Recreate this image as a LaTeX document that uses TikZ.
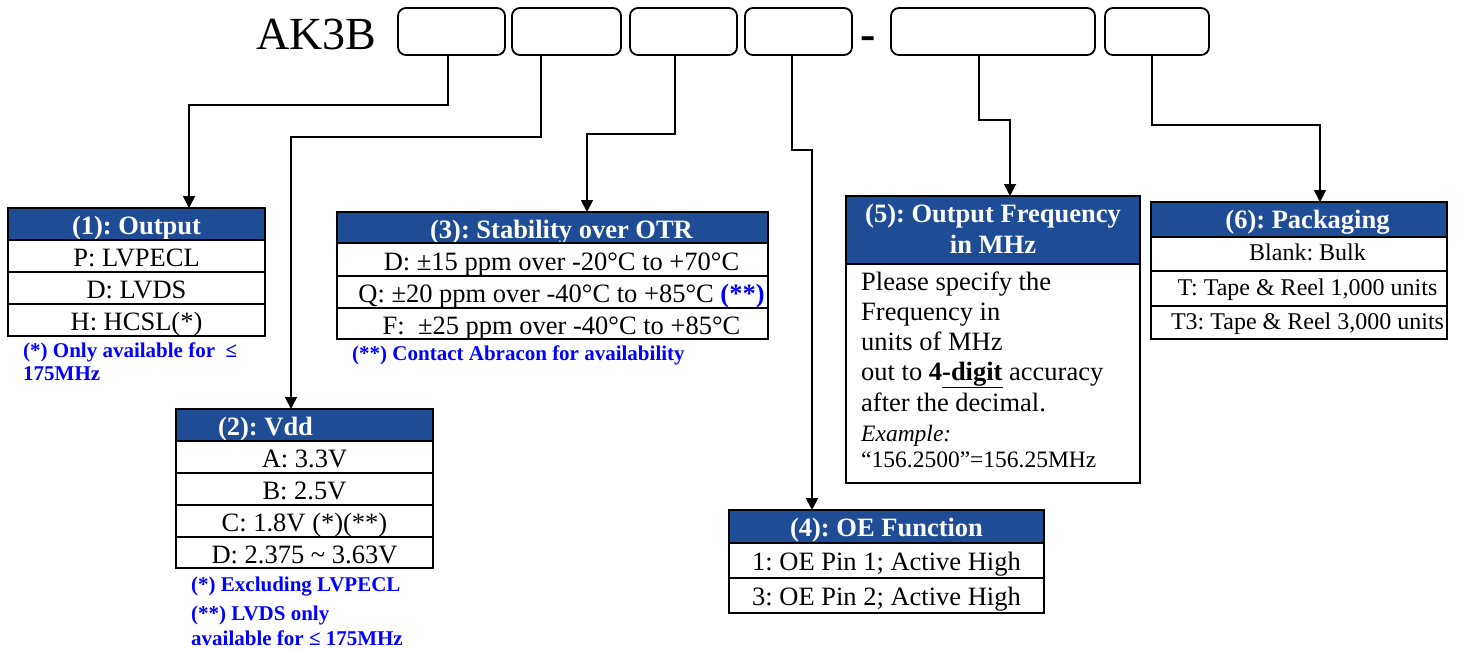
\documentclass[tikz,border=0pt]{standalone}
\usepackage{fontspec}
\setmainfont{Liberation Serif}
\usetikzlibrary{arrows.meta}
\definecolor{hdr}{RGB}{30,77,150}
\definecolor{notecol}{RGB}{0,0,255}
\frenchspacing
\begin{document}
\begin{tikzpicture}[x=1pt,y=-1pt,
  topbox/.style={draw, line width=1.8pt, rounded corners=8pt, anchor=north west, minimum height=47pt, inner sep=0pt, outer sep=0pt},
  cell/.style={draw, line width=1.8pt, anchor=north west, inner sep=0pt, outer sep=0pt, text height=21pt, text depth=0pt, font=\fontsize{26.5}{30}\selectfont},
  hcell/.style={cell, fill=hdr, text=white, font=\fontsize{26.5}{30}\selectfont\bfseries},
  conn/.style={line width=1.8pt, -{Triangle[width=12pt,length=12pt]}},
  notetext/.style={anchor=base west, inner sep=0pt, text=notecol, font=\fontsize{21}{24}\selectfont\bfseries},
  bodytext/.style={anchor=base west, inner sep=0pt, font=\fontsize{26.5}{30}\selectfont},
  smalltext/.style={anchor=base west, inner sep=0pt, font=\fontsize{23.5}{26}\selectfont},
  hdrtext/.style={anchor=base, inner sep=0pt, text=white, font=\fontsize{26.5}{30}\selectfont\bfseries},
]
\path[use as bounding box] (0,0) rectangle (1471,651);

% ---- top part number ----
\node[anchor=base west, inner sep=0pt, font=\fontsize{46}{50}\selectfont] (ak) at (256,49) {AK3B};
\node[topbox, minimum width=107pt] (b1) at (398,8) {};
\node[topbox, minimum width=109pt] (b2) at (512,8) {};
\node[topbox, minimum width=107pt] (b3) at (630,8) {};
\node[topbox, minimum width=107pt] (b4) at (745,8) {};
\node[anchor=base, inner sep=0pt, font=\fontsize{46}{50}\selectfont\bfseries] (dash) at (868,49) {-};
\node[topbox, minimum width=204pt] (b5) at (891,8) {};
\node[topbox, minimum width=104pt] (b6) at (1105,8) {};

% ---- (1) Output ----
\node[hcell, minimum width=257pt, minimum height=32pt] (t1) at (8,208) {(1): Output};
\node[cell, minimum width=257pt, minimum height=32pt] (t1a) at (t1.south west) {P: LVPECL};
\node[cell, minimum width=257pt, minimum height=32pt] (t1b) at (t1a.south west) {D: LVDS};
\node[cell, minimum width=257pt, minimum height=32pt] (t1c) at (t1b.south west) {H: HCSL(*)};
\node[notetext] (n1a) at (23,357) {(*) Only available for\ \ ≤};
\node[notetext] (n1b) at (23,380) {175MHz};

% ---- (2) Vdd ----
\node[hcell, minimum width=257pt, minimum height=32pt] (t2) at (176,409) {(2): Vdd\hspace*{78pt}};
\node[cell, minimum width=257pt, minimum height=32pt] (t2a) at (t2.south west) {A: 3.3V};
\node[cell, minimum width=257pt, minimum height=32pt] (t2b) at (t2a.south west) {B: 2.5V};
\node[cell, minimum width=257pt, minimum height=32pt] (t2c) at (t2b.south west) {C: 1.8V (*)(**)};
\node[cell, minimum width=257pt, minimum height=31pt] (t2d) at (t2c.south west) {D: 2.375 \textasciitilde{} 3.63V};
\node[notetext] (n2a) at (191,591) {(*) Excluding LVPECL};
\node[notetext] (n2b) at (191,620) {(**) LVDS only};
\node[notetext] (n2c) at (191,645) {available for ≤ 175MHz};

% ---- (3) Stability ----
\node[hcell, minimum width=431pt, minimum height=31pt] (t3) at (337,212) {\hspace*{18pt}(3): Stability over OTR};
\node[cell, minimum width=431pt, minimum height=33pt] (t3a) at (t3.south west) {\hspace*{18pt}D: ±15 ppm over -20°C to +70°C};
\node[cell, minimum width=431pt, minimum height=32pt] (t3b) at (t3a.south west) {\hspace*{18pt}Q: ±20 ppm over -40°C to +85°C {\color{notecol}\bfseries(**)}};
\node[cell, minimum width=431pt, minimum height=31pt] (t3c) at (t3b.south west) {\hspace*{18pt}F:\ \ ±25 ppm over -40°C to +85°C};
\node[notetext] (n3) at (352,360) {(**) Contact Abracon for availability};

% ---- (4) OE Function ----
\node[hcell, minimum width=315pt, minimum height=33pt, text height=20pt] (t4) at (729,510) {(4): OE Function};
\node[cell, minimum width=315pt, minimum height=35pt, text height=19pt] (t4a) at (t4.south west) {1: OE Pin 1; Active High};
\node[cell, minimum width=315pt, minimum height=35pt, text height=19pt] (t4b) at (t4a.south west) {3: OE Pin 2; Active High};

% ---- (5) Output Frequency ----
\node[draw, line width=1.8pt, fill=hdr, anchor=north west, minimum width=294pt, minimum height=68pt, inner sep=0pt, outer sep=0pt] (t5) at (846,196) {};
\node[draw, line width=1.8pt, anchor=north west, minimum width=294pt, minimum height=219pt, inner sep=0pt, outer sep=0pt] (t5a) at (t5.south west) {};
\node[hdrtext] (h5a) at (993,222) {(5): Output Frequency};
\node[hdrtext] (h5b) at (993,253) {in MHz};
\node[bodytext] (l1) at (861,290) {Please specify the};
\node[bodytext] (l2) at (861,320) {Frequency in};
\node[bodytext] (l3) at (861,350) {units of MHz};
\node[bodytext] (l4) at (861,380) {out to \textbf{4\underline{-digit}} accuracy};
\node[bodytext] (l5) at (861,411) {after the decimal.};
\node[smalltext] (l6) at (861,441) {\itshape Example:};
\node[smalltext] (l7) at (861,467) {“156.2500”=156.25MHz};

% ---- (6) Packaging ----
\node[hcell, minimum width=296pt, minimum height=35pt, text height=17pt] (t6) at (1151,202) {\hspace*{17pt}(6): Packaging};
\node[cell, minimum width=296pt, minimum height=34pt, text height=13pt, font=\fontsize{24}{28}\selectfont] (t6a) at (t6.south west) {\hspace*{17pt}Blank: Bulk};
\node[cell, minimum width=296pt, minimum height=35pt, text height=14pt, font=\fontsize{24}{28}\selectfont] (t6b) at (t6a.south west) {\hspace*{17pt}T: Tape \& Reel 1,000 units};
\node[cell, minimum width=296pt, minimum height=33pt, text height=14pt, font=\fontsize{24}{28}\selectfont] (t6c) at (t6b.south west) {\hspace*{17pt}T3: Tape \& Reel 3,000 units};

% ---- connectors ----
\draw[conn] ([xshift=-3.5pt]b1.south) -- ++(0,50) -| ([xshift=52.5pt]t1.north);
\draw[conn] ([xshift=-25.5pt]b2.south) -- ++(0,82) -| ([xshift=-13.5pt]t2.north);
\draw[conn] ([xshift=-8.5pt]b3.south) -- ++(0,79) -| ([xshift=34.5pt]t3.north);
\draw[conn] ([xshift=-6.5pt]b4.south) -- ++(0,95) -| ([xshift=-74.5pt]t4.north);
\draw[conn] ([xshift=-14pt]b5.south) -- ++(0,65) -| ([xshift=17pt]t5.north);
\draw[conn] ([xshift=-5pt]b6.south) -- ++(0,70) -| ([xshift=21pt]t6.north);
\end{tikzpicture}
\end{document}
